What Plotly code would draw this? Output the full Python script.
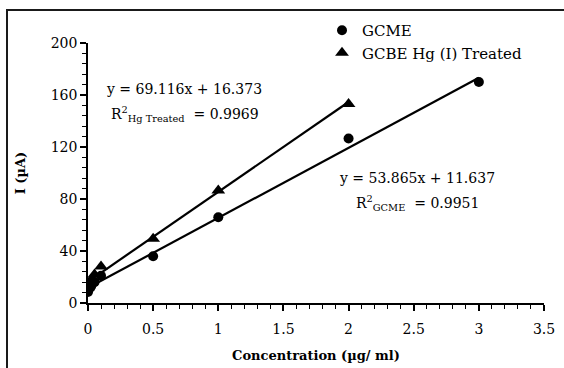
import plotly.graph_objects as go

# Calibration data: peak current vs. concentration
conc_gcme = [0, 0.01, 0.025, 0.05, 0.1, 0.5, 1, 2, 3]
i_gcme = [8.5, 11, 13, 16, 21, 36, 66, 126.5, 170]

conc_hg = [0, 0.01, 0.025, 0.05, 0.1, 0.5, 1, 2]
i_hg = [12, 15, 18, 22, 28, 49.5, 86.5, 153]

# Linear fits (slope, intercept, R^2)
slope_gcme, icpt_gcme, r2_gcme = 53.865, 11.637, 0.9951
slope_hg, icpt_hg, r2_hg = 69.116, 16.373, 0.9969

x_ticks = [0, 0.5, 1, 1.5, 2, 2.5, 3, 3.5]
x_tick_text = ["0", "0.5", "1", "1.5", "2", "2.5", "3", "3.5"]
y_ticks = [0, 40, 80, 120, 160, 200]

FONT = "DejaVu Serif"

W, H = 564, 368
ML, MR, MT, MB = 88, 20, 43, 65
PW, PH = W - ML - MR, H - MT - MB


def px_to_paper_x(px):
    return (px - ML) / PW


def px_to_paper_y(py):
    return (H - MB - py) / PH


fig = go.Figure()

# trendlines
for conc, slope, icpt in [(conc_hg, slope_hg, icpt_hg), (conc_gcme, slope_gcme, icpt_gcme)]:
    xs = [0, max(conc)]
    fig.add_trace(go.Scatter(
        x=xs, y=[slope * v + icpt for v in xs], mode="lines",
        line=dict(color="black", width=2.2), showlegend=False, hoverinfo="skip"))

fig.add_trace(go.Scatter(
    x=conc_gcme, y=i_gcme, mode="markers", name="GCME",
    marker=dict(symbol="circle", size=10, color="black")))
fig.add_trace(go.Scatter(
    x=conc_hg, y=i_hg, mode="markers", name="GCBE Hg (I) Treated",
    marker=dict(symbol="triangle-up", size=12, color="black")))

# fit equations
fig.add_annotation(x=0.735, y=164.5, xref="x", yref="y", showarrow=False,
                   text=f"y = {slope_hg:.3f}x + {icpt_hg:.3f}",
                   font=dict(family=FONT, size=14, color="black"))
fig.add_annotation(x=0.745, y=145.5, xref="x", yref="y", showarrow=False,
                   text=f"R<sup>2</sup><sub>Hg Treated</sub>  = {r2_hg:.4f}",
                   font=dict(family=FONT, size=14, color="black"))
fig.add_annotation(x=2.525, y=96, xref="x", yref="y", showarrow=False,
                   text=f"y = {slope_gcme:.3f}x + {icpt_gcme:.3f}",
                   font=dict(family=FONT, size=14, color="black"))
fig.add_annotation(x=2.53, y=77, xref="x", yref="y", showarrow=False,
                   text=f"R<sup>2</sup><sub>GCME</sub>  = {r2_gcme:.4f}",
                   font=dict(family=FONT, size=14, color="black"))

# outer frame
fig.add_shape(type="rect", xref="paper", yref="paper",
              x0=px_to_paper_x(7), x1=px_to_paper_x(W + 20),
              y0=px_to_paper_y(H + 20), y1=px_to_paper_y(10),
              line=dict(color="#1a1a1a", width=2), fillcolor="rgba(0,0,0,0)")

fig.update_layout(
    width=W, height=H,
    margin=dict(l=ML, r=MR, t=MT, b=MB, autoexpand=False),
    paper_bgcolor="white", plot_bgcolor="white",
    font=dict(family=FONT, size=14, color="black"),
    legend=dict(x=px_to_paper_x(322), y=px_to_paper_y(14), xanchor="left", yanchor="top",
                bgcolor="rgba(0,0,0,0)", font=dict(family=FONT, size=15),
                itemwidth=30, tracegroupgap=0),
    xaxis=dict(range=[0, 3.5], tickvals=x_ticks, ticktext=x_tick_text,
               showgrid=False, zeroline=False, showline=True, linecolor="black", linewidth=1.5,
               ticks="outside", ticklen=6, tickwidth=1.5, tickcolor="black",
               ticklabelstandoff=6,
               minor=dict(dtick=0.1, ticks="outside", ticklen=4, tickwidth=1, tickcolor="black"),
               title=dict(text="<b>Concentration (µg/ ml)</b>", standoff=15,
                          font=dict(family=FONT, size=13))),
    yaxis=dict(range=[0, 200], tickvals=y_ticks,
               showgrid=False, zeroline=False, showline=True, linecolor="black", linewidth=1.5,
               ticks="outside", ticklen=6, tickwidth=1.5, tickcolor="black",
               minor=dict(dtick=8, ticks="outside", ticklen=4, tickwidth=1, tickcolor="black"),
               title=dict(text="<b>I (µA)</b>", standoff=22,
                          font=dict(family=FONT, size=13))),
)

fig.write_html("out.html")
